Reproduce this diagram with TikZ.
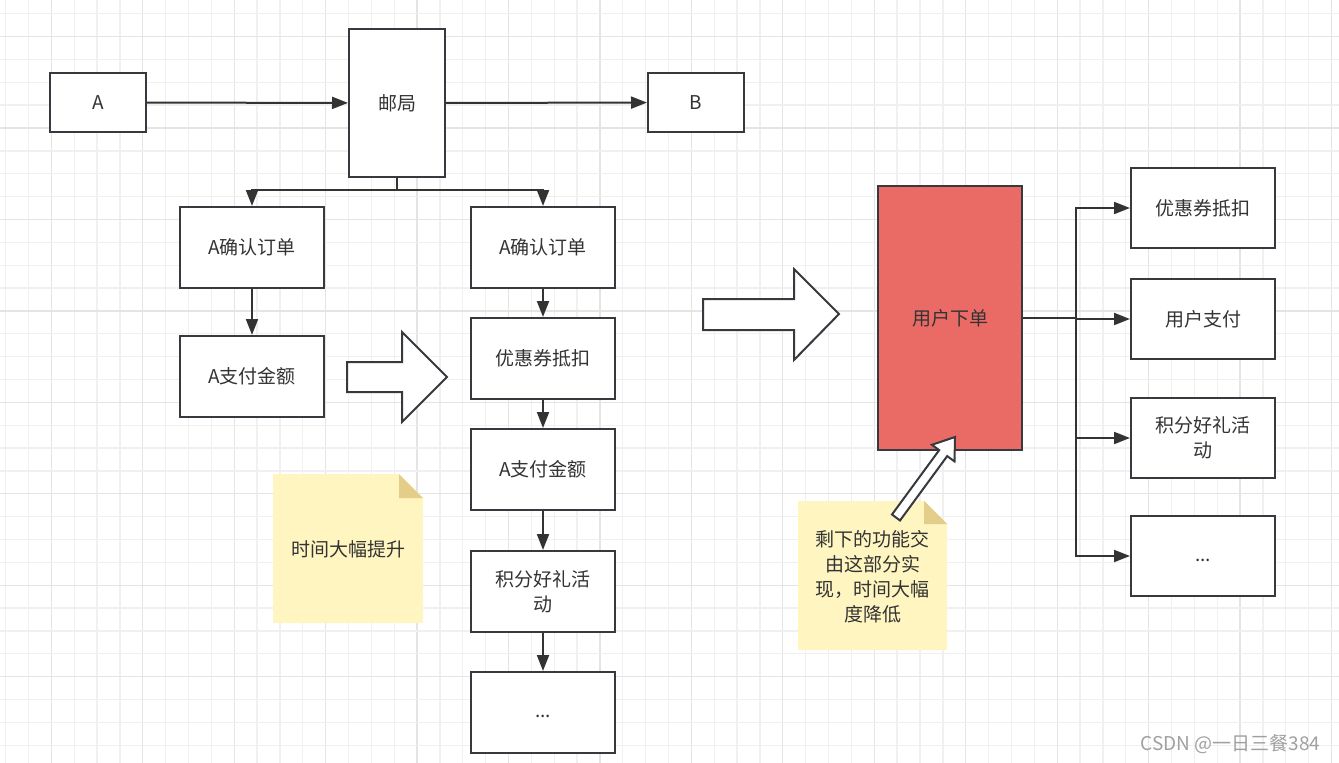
\documentclass[tikz,border=0pt]{standalone}
\usepackage{fontspec}
\setmainfont{Noto Sans CJK SC}
\usetikzlibrary{arrows.meta}
\definecolor{ln}{HTML}{36393D}
\definecolor{txt}{HTML}{333333}
\definecolor{gminor}{HTML}{F0F0F0}
\definecolor{gmajor}{HTML}{E4E4E4}
\definecolor{redfill}{HTML}{EA6B66}
\definecolor{notefill}{HTML}{FFF5C1}
\definecolor{notefold}{HTML}{E3CD88}
\definecolor{wm}{HTML}{A0A0A0}
\tikzset{
  box/.style={draw=ln, line width=2pt, fill=white, minimum width=144pt, minimum height=81pt,
    inner sep=0pt, font=\fontsize{19}{25}\selectfont, align=center, text=txt},
  smallbox/.style={box, minimum width=96pt, minimum height=59pt},
  arr/.style={draw=txt, line width=2pt, -{Triangle[length=16pt,width=12pt]}},
  conn/.style={draw=txt, line width=2pt},
  blockarrow/.style={draw=ln, line width=2pt, fill=white, line join=miter},
  notetext/.style={font=\fontsize{19}{25}\selectfont, align=center, text=txt}
}
\newcommand\lowdots{\raisebox{-5pt}[0pt][0pt]{...}}
\begin{document}
\begin{tikzpicture}[x=1pt,y=-1pt]
\useasboundingbox (0,0) rectangle (1339,763);
\fill[white] (0,0) rectangle (1339,763);
% grid
\foreach \i in {0,...,58}{
  \pgfmathsetmacro\gx{5.6+22.86*\i}
  \pgfmathtruncatemacro\m{mod(\i,4)}
  \ifnum\m=2 \draw[gmajor, line width=1.3pt] (\gx,0) -- (\gx,763);
  \else \draw[gminor, line width=1.3pt] (\gx,0) -- (\gx,763); \fi
}
\foreach \j in {0,...,33}{
  \pgfmathsetmacro\gy{13.7+22.86*\j}
  \pgfmathtruncatemacro\m{mod(\j,4)}
  \ifnum\m=1 \draw[gmajor, line width=1.3pt] (0,\gy) -- (1339,\gy);
  \else \draw[gminor, line width=1.3pt] (0,\gy) -- (1339,\gy); \fi
}

% top row
\node[smallbox] (A) at (98,102.5) {A};
\node[box, minimum width=96pt, minimum height=148pt] (post) at (397,103) {邮局};
\node[smallbox] (B) at (696,102.5) {B};
\draw[arr] (A) -- (post);
\draw[arr] (post) -- (B);

% left column
\node[box] (L1) at (252,247.5) {A确认订单};
\node[box] (L2) at (252,376.5) {A支付金额};
% right column
\node[box] (R1) at (543,247.5) {A确认订单};
\node[box] (R2) at (543,358.5) {优惠券抵扣};
\node[box] (R3) at (543,469.5) {A支付金额};
\node[box] (R4) at (543,591.5) {积分好礼活\\动};
\node[box] (R5) at (543,712.5) {\lowdots};

\coordinate (j) at (397,190);
\draw[conn] (post.south) -- (j);
\draw[arr] (j) -| (L1.north);
\draw[arr] (j) -| (R1.north);
\draw[arr] (L1) -- (L2);
\draw[arr] (R1) -- (R2);
\draw[arr] (R2) -- (R3);
\draw[arr] (R3) -- (R4);
\draw[arr] (R4) -- (R5);

% block arrows
\draw[blockarrow] (347,362) -- (402,362) -- (402,332) -- (447,377) -- (402,422) -- (402,392) -- (347,392) -- cycle;
\draw[blockarrow] (703,299) -- (794,299) -- (794,269) -- (839,314) -- (794,360) -- (794,330) -- (703,330) -- cycle;

% notes
\fill[notefill] (273,474) -- (399,474) -- (423,498) -- (423,623) -- (273,623) -- cycle;
\fill[notefold] (399,474) -- (399,498) -- (423,498) -- cycle;
\node[notetext] (n1) at (348,549) {时间大幅提升};

% right side
\node[box, fill=redfill, minimum height=264pt] (order) at (950,318) {用户下单};
\node[box, minimum height=80pt] (C1) at (1203,208) {优惠券抵扣};
\node[box, minimum height=80pt] (C2) at (1203,319) {用户支付};
\node[box, minimum height=80pt] (C3) at (1203,438) {积分好礼活\\动};
\node[box, minimum height=80pt] (C4) at (1203,556) {\lowdots};
\coordinate (k) at (1076,318);
\draw[conn] (order.east) -- (k);
\draw[arr] (k) |- (C1.west);
\draw[arr] (k) |- (C2.west);
\draw[arr] (k) |- (C3.west);
\draw[arr] (k) |- (C4.west);

\fill[notefill] (798,501) -- (924,501) -- (947,524) -- (947,650) -- (798,650) -- cycle;
\fill[notefold] (924,501) -- (924,524) -- (947,524) -- cycle;
\node[notetext] (n2) at (872.5,577) {剩下的功能交\\由这部分实\\现，时间大幅\\度降低};

\draw[blockarrow] (892.0,514.5) -- (939.2,450.1) -- (931.9,444.8) -- (955,437) -- (954.5,461.4) -- (947.2,456.1) -- (900.0,520.5) -- cycle;

% watermark
\node[font=\fontsize{19}{22}\selectfont, text=wm, anchor=east] (wmk) at (1324,744) {CSDN @一日三餐384};
\end{tikzpicture}
\end{document}
